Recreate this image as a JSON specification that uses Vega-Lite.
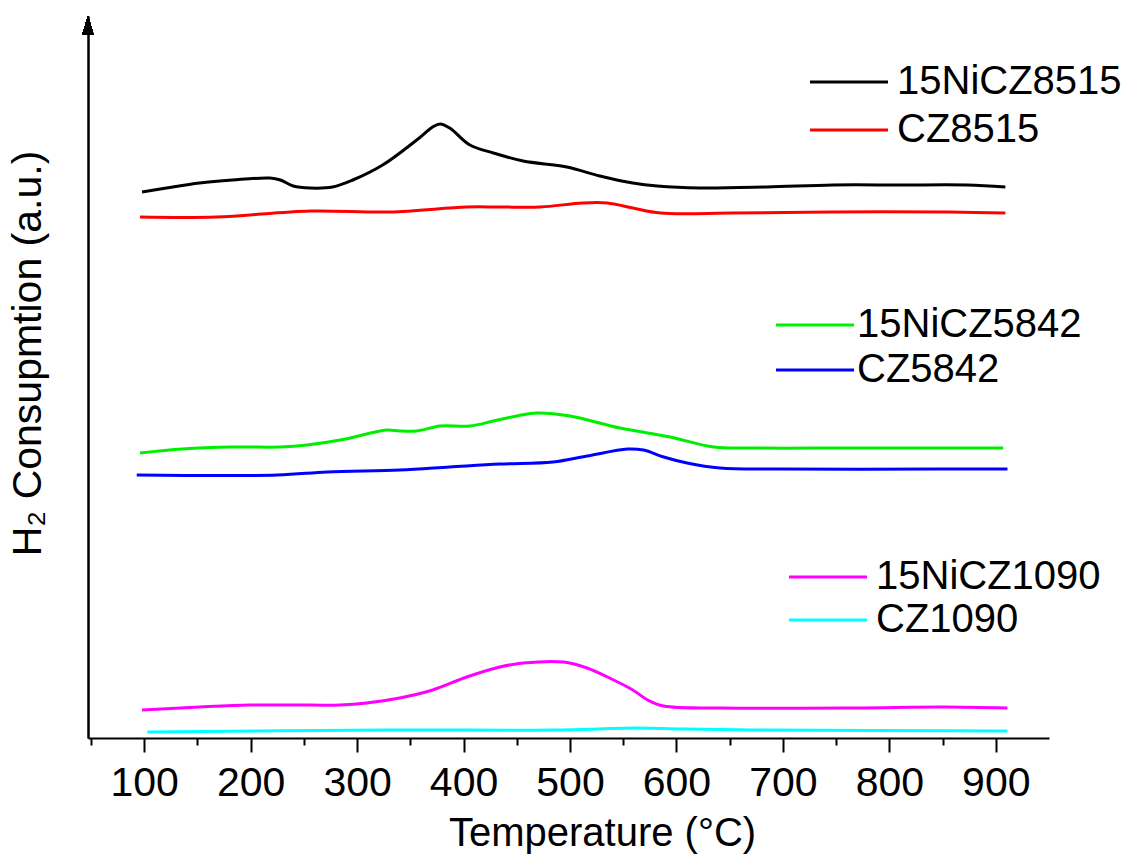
{
  "$schema": "https://vega.github.io/schema/vega-lite/v6.json",
  "autosize": {"type": "none"},
  "padding": {"left": 88, "top": 16, "right": 80, "bottom": 118},
  "width": 961,
  "height": 722,
  "background": "white",
  "config": {
    "view": {"stroke": null},
    "font": "Liberation Sans",
    "legend": {
      "orient": "none",
      "title": null,
      "padding": 0,
      "symbolType": "M-4,0H4",
      "symbolSize": 380,
      "symbolStrokeWidth": 3,
      "labelFontSize": 40,
      "labelFont": "Liberation Sans",
      "labelColor": "black",
      "labelOffset": 28,
      "labelLimit": 0,
      "rowPadding": 8
    }
  },
  "data": {
    "values": [
      {"s": "15NiCZ8515", "g": 1, "x": 98, "y": 546},
      {"s": "15NiCZ8515", "g": 1, "x": 121, "y": 550},
      {"s": "15NiCZ8515", "g": 1, "x": 152, "y": 555},
      {"s": "15NiCZ8515", "g": 1, "x": 183, "y": 558},
      {"s": "15NiCZ8515", "g": 1, "x": 218, "y": 560},
      {"s": "15NiCZ8515", "g": 1, "x": 228, "y": 558},
      {"s": "15NiCZ8515", "g": 1, "x": 240, "y": 552},
      {"s": "15NiCZ8515", "g": 1, "x": 256, "y": 550},
      {"s": "15NiCZ8515", "g": 1, "x": 277, "y": 551},
      {"s": "15NiCZ8515", "g": 1, "x": 296, "y": 558},
      {"s": "15NiCZ8515", "g": 1, "x": 324, "y": 573},
      {"s": "15NiCZ8515", "g": 1, "x": 356, "y": 598},
      {"s": "15NiCZ8515", "g": 1, "x": 371, "y": 611},
      {"s": "15NiCZ8515", "g": 1, "x": 378, "y": 614},
      {"s": "15NiCZ8515", "g": 1, "x": 387, "y": 610},
      {"s": "15NiCZ8515", "g": 1, "x": 406, "y": 593},
      {"s": "15NiCZ8515", "g": 1, "x": 428, "y": 585},
      {"s": "15NiCZ8515", "g": 1, "x": 456, "y": 577},
      {"s": "15NiCZ8515", "g": 1, "x": 497, "y": 571},
      {"s": "15NiCZ8515", "g": 1, "x": 528, "y": 562},
      {"s": "15NiCZ8515", "g": 1, "x": 559, "y": 555},
      {"s": "15NiCZ8515", "g": 1, "x": 582, "y": 552},
      {"s": "15NiCZ8515", "g": 1, "x": 622, "y": 550},
      {"s": "15NiCZ8515", "g": 1, "x": 685, "y": 551},
      {"s": "15NiCZ8515", "g": 1, "x": 747, "y": 553},
      {"s": "15NiCZ8515", "g": 1, "x": 810, "y": 553},
      {"s": "15NiCZ8515", "g": 1, "x": 873, "y": 553},
      {"s": "15NiCZ8515", "g": 1, "x": 909, "y": 551},

      {"s": "CZ8515", "g": 1, "x": 96, "y": 521},
      {"s": "CZ8515", "g": 1, "x": 168, "y": 521},
      {"s": "CZ8515", "g": 1, "x": 256, "y": 527},
      {"s": "CZ8515", "g": 1, "x": 331, "y": 526},
      {"s": "CZ8515", "g": 1, "x": 403, "y": 531},
      {"s": "CZ8515", "g": 1, "x": 434, "y": 531},
      {"s": "CZ8515", "g": 1, "x": 472, "y": 531},
      {"s": "CZ8515", "g": 1, "x": 512, "y": 535},
      {"s": "CZ8515", "g": 1, "x": 535, "y": 535},
      {"s": "CZ8515", "g": 1, "x": 559, "y": 530},
      {"s": "CZ8515", "g": 1, "x": 585, "y": 525},
      {"s": "CZ8515", "g": 1, "x": 653, "y": 525},
      {"s": "CZ8515", "g": 1, "x": 747, "y": 526},
      {"s": "CZ8515", "g": 1, "x": 857, "y": 526},
      {"s": "CZ8515", "g": 1, "x": 909, "y": 525},

      {"s": "15NiCZ5842", "g": 2, "x": 96, "y": 285},
      {"s": "15NiCZ5842", "g": 2, "x": 136, "y": 289},
      {"s": "15NiCZ5842", "g": 2, "x": 183, "y": 291},
      {"s": "15NiCZ5842", "g": 2, "x": 228, "y": 291},
      {"s": "15NiCZ5842", "g": 2, "x": 253, "y": 293},
      {"s": "15NiCZ5842", "g": 2, "x": 284, "y": 298},
      {"s": "15NiCZ5842", "g": 2, "x": 309, "y": 304},
      {"s": "15NiCZ5842", "g": 2, "x": 328, "y": 308},
      {"s": "15NiCZ5842", "g": 2, "x": 340, "y": 307},
      {"s": "15NiCZ5842", "g": 2, "x": 356, "y": 307},
      {"s": "15NiCZ5842", "g": 2, "x": 378, "y": 312},
      {"s": "15NiCZ5842", "g": 2, "x": 406, "y": 312},
      {"s": "15NiCZ5842", "g": 2, "x": 428, "y": 317},
      {"s": "15NiCZ5842", "g": 2, "x": 450, "y": 322},
      {"s": "15NiCZ5842", "g": 2, "x": 469, "y": 325},
      {"s": "15NiCZ5842", "g": 2, "x": 500, "y": 322},
      {"s": "15NiCZ5842", "g": 2, "x": 547, "y": 310},
      {"s": "15NiCZ5842", "g": 2, "x": 594, "y": 301},
      {"s": "15NiCZ5842", "g": 2, "x": 635, "y": 291},
      {"s": "15NiCZ5842", "g": 2, "x": 672, "y": 290},
      {"s": "15NiCZ5842", "g": 2, "x": 766, "y": 290},
      {"s": "15NiCZ5842", "g": 2, "x": 907, "y": 290},

      {"s": "CZ5842", "g": 2, "x": 93, "y": 263},
      {"s": "CZ5842", "g": 2, "x": 225, "y": 263},
      {"s": "CZ5842", "g": 2, "x": 272, "y": 266},
      {"s": "CZ5842", "g": 2, "x": 340, "y": 268},
      {"s": "CZ5842", "g": 2, "x": 387, "y": 271},
      {"s": "CZ5842", "g": 2, "x": 434, "y": 274},
      {"s": "CZ5842", "g": 2, "x": 484, "y": 276},
      {"s": "CZ5842", "g": 2, "x": 516, "y": 282},
      {"s": "CZ5842", "g": 2, "x": 554, "y": 289},
      {"s": "CZ5842", "g": 2, "x": 569, "y": 288},
      {"s": "CZ5842", "g": 2, "x": 588, "y": 281},
      {"s": "CZ5842", "g": 2, "x": 610, "y": 275},
      {"s": "CZ5842", "g": 2, "x": 641, "y": 270},
      {"s": "CZ5842", "g": 2, "x": 695, "y": 269},
      {"s": "CZ5842", "g": 2, "x": 845, "y": 269},
      {"s": "CZ5842", "g": 2, "x": 911, "y": 269},

      {"s": "15NiCZ1090", "g": 3, "x": 98, "y": 28},
      {"s": "15NiCZ1090", "g": 3, "x": 152, "y": 31},
      {"s": "15NiCZ1090", "g": 3, "x": 199, "y": 33},
      {"s": "15NiCZ1090", "g": 3, "x": 240, "y": 33},
      {"s": "15NiCZ1090", "g": 3, "x": 284, "y": 33},
      {"s": "15NiCZ1090", "g": 3, "x": 309, "y": 35},
      {"s": "15NiCZ1090", "g": 3, "x": 340, "y": 40},
      {"s": "15NiCZ1090", "g": 3, "x": 371, "y": 48},
      {"s": "15NiCZ1090", "g": 3, "x": 403, "y": 61},
      {"s": "15NiCZ1090", "g": 3, "x": 434, "y": 71},
      {"s": "15NiCZ1090", "g": 3, "x": 456, "y": 75},
      {"s": "15NiCZ1090", "g": 3, "x": 494, "y": 76},
      {"s": "15NiCZ1090", "g": 3, "x": 516, "y": 70},
      {"s": "15NiCZ1090", "g": 3, "x": 541, "y": 58},
      {"s": "15NiCZ1090", "g": 3, "x": 559, "y": 48},
      {"s": "15NiCZ1090", "g": 3, "x": 573, "y": 38},
      {"s": "15NiCZ1090", "g": 3, "x": 588, "y": 32},
      {"s": "15NiCZ1090", "g": 3, "x": 641, "y": 30},
      {"s": "15NiCZ1090", "g": 3, "x": 766, "y": 30},
      {"s": "15NiCZ1090", "g": 3, "x": 851, "y": 31},
      {"s": "15NiCZ1090", "g": 3, "x": 911, "y": 30},

      {"s": "CZ1090", "g": 3, "x": 103, "y": 6},
      {"s": "CZ1090", "g": 3, "x": 328, "y": 8},
      {"s": "CZ1090", "g": 3, "x": 484, "y": 8},
      {"s": "CZ1090", "g": 3, "x": 563, "y": 10},
      {"s": "CZ1090", "g": 3, "x": 604, "y": 9},
      {"s": "CZ1090", "g": 3, "x": 672, "y": 8},
      {"s": "CZ1090", "g": 3, "x": 911, "y": 7}
    ]
  },
  "encoding": {
    "x": {
      "field": "x",
      "type": "quantitative",
      "scale": {"domain": [47.2, 950], "nice": false, "zero": false},
      "axis": {
        "title": "Temperature (°C)",
        "titleFont": "Liberation Sans",
        "titleFontSize": 40,
        "titleFontWeight": "normal",
        "titleColor": "black",
        "titleX": 514,
        "titleY": 107,
        "titleBaseline": "alphabetic",
        "titleAnchor": "start",
        "titleAlign": "center",
        "values": [50, 100, 150, 200, 250, 300, 350, 400, 450, 500, 550, 600, 650, 700, 750, 800, 850, 900],
        "labelExpr": "datum.value % 100 === 0 ? datum.label : ''",
        "labelFont": "Liberation Sans",
        "labelFontSize": 41,
        "labelColor": "black",
        "labelBaseline": "alphabetic",
        "labelPadding": 43,
        "labelFlush": false,
        "labelOverlap": false,
        "grid": false,
        "domainColor": "black",
        "domainWidth": 2,
        "tickColor": "black",
        "tickWidth": 2,
        "tickSize": {"condition": {"test": "datum.value % 100 === 0", "value": 14}, "value": 7}
      }
    },
    "y": {
      "field": "y",
      "type": "quantitative",
      "scale": {"domain": [0, 722], "nice": false, "zero": false},
      "axis": {
        "title": "H₂ Consupmtion (a.u.)",
        "titleFont": "Liberation Sans",
        "titleFontSize": 41,
        "titleFontWeight": "normal",
        "titleColor": "black",
        "titleX": -48,
        "titleY": 337,
        "titleAngle": -90,
        "titleBaseline": "alphabetic",
        "titleAlign": "center",
        "ticks": false,
        "labels": false,
        "grid": false,
        "domainColor": "black",
        "domainWidth": 2.5
      }
    }
  },
  "layer": [
    {
      "transform": [{"filter": "datum.g === 1"}],
      "mark": {"type": "line", "interpolate": "catmull-rom", "strokeWidth": 3},
      "encoding": {
        "color": {
          "field": "s", "type": "nominal",
          "scale": {"domain": ["15NiCZ8515", "CZ8515"], "range": ["#000000", "#ff0000"]},
          "legend": {"legendX": 741, "legendY": 46, "labelOffset": 28}
        }
      }
    },
    {
      "transform": [{"filter": "datum.g === 2"}],
      "mark": {"type": "line", "interpolate": "catmull-rom", "strokeWidth": 3},
      "encoding": {
        "color": {
          "field": "s", "type": "nominal",
          "scale": {"domain": ["15NiCZ5842", "CZ5842"], "range": ["#00ee00", "#0000ff"]},
          "legend": {"legendX": 707, "legendY": 289, "rowPadding": 5, "labelOffset": 22}
        }
      }
    },
    {
      "transform": [{"filter": "datum.g === 3"}],
      "mark": {"type": "line", "interpolate": "catmull-rom", "strokeWidth": 3},
      "encoding": {
        "color": {
          "field": "s", "type": "nominal",
          "scale": {"domain": ["15NiCZ1090", "CZ1090"], "range": ["#ff00ff", "#00ffff"]},
          "legend": {"legendX": 720, "legendY": 541, "rowPadding": 3, "labelOffset": 28}
        }
      }
    },
    {
      "mark": {"type": "point", "filled": true, "opacity": 1, "color": "black", "shape": "M-0.6,1L0,-1L0.6,1Z", "size": 361},
      "encoding": {
        "x": {"datum": 47.2},
        "y": {"datum": 712.5}
      }
    }
  ],
  "resolve": {"scale": {"color": "independent"}}
}
